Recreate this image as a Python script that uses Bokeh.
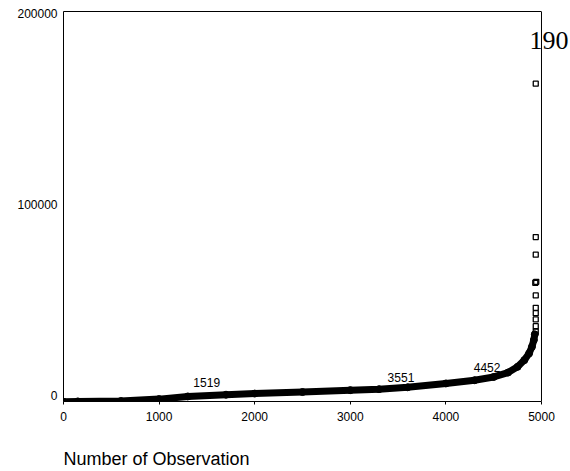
from bokeh.plotting import figure
from bokeh.models import (ColumnDataSource, LabelSet, Label, FixedTicker, Range1d,
                          BasicTickFormatter, LinearAxis, Span)
from bokeh.embed import file_html
from bokeh.resources import INLINE
from bokeh.core.properties import value

# Sorted values
curve_obs = [0, 150, 600, 1000, 1300, 1700, 2000, 2500, 3000, 3300, 3600, 4000,
             4300, 4500, 4650, 4750, 4820, 4870, 4900, 4920, 4930]
curve_val = [-3300, -3100, -2900, -1900, -500, 400, 1000, 1800, 2800, 3300, 4300, 6300,
             8000, 9700, 12000, 15000, 18500, 22000, 25500, 29000, 32000]

# Outliers (hollow squares)
out_obs = [4940, 4940, 4940, 4935, 4945, 4940, 4940, 4940, 4940, 4940, 4940]
out_val = [163200, 82900, 73700, 59000, 59500, 52400, 45900, 43100, 39800, 36300, 33500]

# Case labels
case_x = [1519, 3551, 4452]
case_y = [6800, 9600, 14800]
case_text = ["1519", "3551", "4452"]

top_x = [4875]
top_y = [185600]
top_text = ["190"]

x_ticks = [0, 1000, 2000, 3000, 4000, 5000]
y_ticks = [0, 100000, 200000]
x_title = "Number of Observation"

X_MAX = 5000
p = figure(width=570, height=471, output_backend="svg", toolbar_location=None,
           x_range=Range1d(0, 5293), y_range=Range1d(-3150, 201000),
           min_border_left=63, min_border_right=1, min_border_top=11, min_border_bottom=70)

p.xgrid.visible = False
p.ygrid.visible = False
p.outline_line_color = None
p.background_fill_color = "white"
p.border_fill_color = "white"

for ax in (p.xaxis[0], p.yaxis[0]):
    ax.axis_line_color = "black"
    ax.major_tick_line_color = "black"
    ax.minor_tick_line_color = None
    ax.major_label_text_font = "Liberation Sans"
    ax.major_label_text_font_size = "12px"
    ax.major_label_text_color = "black"
    ax.formatter = BasicTickFormatter(use_scientific=False)

p.xaxis.ticker = FixedTicker(ticks=x_ticks)
p.xaxis.bounds = (0, X_MAX)
p.xaxis.major_tick_in = 0
p.xaxis.major_tick_out = 3
p.xaxis.major_label_standoff = 7

p.yaxis.ticker = FixedTicker(ticks=y_ticks)
p.yaxis.major_tick_in = 0
p.yaxis.major_tick_out = 0
p.yaxis.major_label_standoff = 6

# top border of the box
top_axis = LinearAxis(ticker=FixedTicker(ticks=[]), bounds=(0, X_MAX),
                      major_label_text_font_size="0px", major_tick_line_color=None,
                      minor_tick_line_color=None, axis_line_color="black")
p.add_layout(top_axis, "above")
# right border of the box
p.add_layout(Span(location=X_MAX, dimension="height", line_color="black", line_width=1))

# x-axis title under the box; trailing no-break spaces push its visible part to the left edge
title_axis = LinearAxis(ticker=FixedTicker(ticks=[]), bounds=(0, X_MAX),
                        major_label_text_font_size="0px", major_label_standoff=0,
                        major_tick_out=0, major_tick_in=0,
                        major_tick_line_color=None, minor_tick_line_color=None,
                        axis_line_color=None, axis_label=x_title + "\u00a0" * 64,
                        axis_label_standoff=25, axis_label_text_font="Liberation Sans",
                        axis_label_text_font_size="18px", axis_label_text_font_style="normal",
                        axis_label_text_color="black", axis_label_align="center")
p.add_layout(title_axis, "below")

p.line(curve_obs, curve_val, line_width=7, line_color="black", line_cap="round", line_join="round")
p.scatter(curve_obs, curve_val, size=7, fill_color="black", line_color="black")

p.scatter(out_obs, out_val, marker="square", size=5, fill_color=None,
          line_color="black", line_width=1.3)

case_src = ColumnDataSource(dict(x=case_x, y=case_y, t=case_text))
p.add_layout(LabelSet(x="x", y="y", text="t", source=case_src, x_offset=-2,
                      text_font=value("Liberation Sans"), text_font_size="12px",
                      text_color="black", text_align="center", text_baseline="middle"))

p.add_layout(Label(x=top_x[0], y=top_y[0], text=top_text[0],
                   text_font="Liberation Serif", text_font_size="26px",
                   text_color="black", text_align="left", text_baseline="middle"))

open("out.html", "w").write(file_html(p, INLINE))
